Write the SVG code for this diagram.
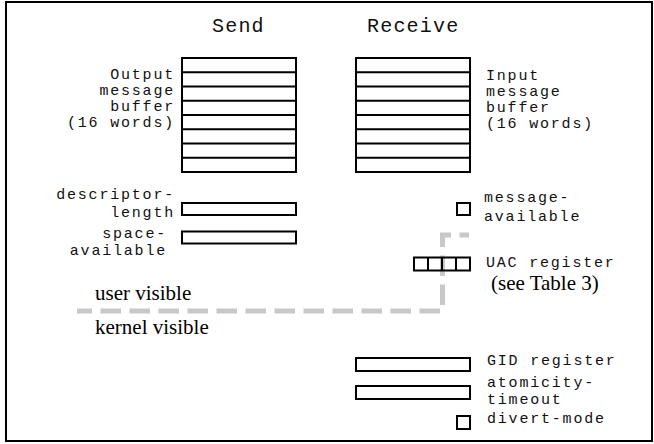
<svg xmlns="http://www.w3.org/2000/svg" width="654" height="444" viewBox="0 0 654 444">
<style>
.box{fill:none;stroke:#000;stroke-width:2}
.ln{stroke:#000;stroke-width:2}
.mono{font-family:"Liberation Mono","Courier New",monospace;font-size:15px;letter-spacing:1.8px;fill:#111}
.title{font-family:"Liberation Mono","Courier New",monospace;font-size:20px;letter-spacing:1.2px;fill:#111}
.serif{font-family:"Liberation Serif","Times New Roman",serif;font-size:21px;fill:#000}
.end{text-anchor:end}
.bound{fill:none;stroke:#c8c8c8;stroke-width:5;stroke-dasharray:20.5 8.5;stroke-dashoffset:5.5}
</style>
<rect x="6" y="2" width="646" height="439" fill="#fff" stroke="#000" stroke-width="2"/>
<g id="boundary">
<path class="bound" d="M77 311 H442.5 V235 H469"/>
<text class="serif" x="95" y="300">user visible</text>
<text class="serif" x="95" y="334">kernel visible</text>
</g>
<g id="send-title"><text class="title" x="212" y="32">Send</text></g>
<g id="receive-title"><text class="title" x="367" y="32">Receive</text></g>
<g id="output-buffer">
<rect class="box" x="182" y="58" width="114" height="114"/>
<path class="ln" d="M182 72.25H296M182 86.5H296M182 100.75H296M182 115H296M182 129.25H296M182 143.5H296M182 157.75H296"/>
<text class="mono end" x="175" y="79">Output</text>
<text class="mono end" x="175" y="95">message</text>
<text class="mono end" x="175" y="111">buffer</text>
<text class="mono end" x="175" y="127">(16 words)</text>
</g>
<g id="input-buffer">
<rect class="box" x="356" y="58" width="114" height="114"/>
<path class="ln" d="M356 72.25H470M356 86.5H470M356 100.75H470M356 115H470M356 129.25H470M356 143.5H470M356 157.75H470"/>
<text class="mono" x="486" y="80">Input</text>
<text class="mono" x="486" y="96">message</text>
<text class="mono" x="486" y="112">buffer</text>
<text class="mono" x="486" y="128">(16 words)</text>
</g>
<g id="descriptor-length">
<rect class="box" x="182" y="203" width="114" height="12"/>
<text class="mono end" x="175" y="199">descriptor-</text>
<text class="mono end" x="175" y="217">length</text>
</g>
<g id="space-available">
<rect class="box" x="182" y="231.5" width="114" height="12"/>
<text class="mono end" x="167" y="238">space-</text>
<text class="mono end" x="167" y="255">available</text>
</g>
<g id="message-available">
<rect class="box" x="457" y="203" width="13" height="12"/>
<text class="mono" x="484" y="202">message-</text>
<text class="mono" x="484" y="221">available</text>
</g>
<g id="uac-register">
<rect class="box" x="414" y="257.5" width="56" height="13"/>
<path class="ln" d="M428 257.5V270.5M442 257.5V270.5M456 257.5V270.5"/>
<text class="mono" x="486" y="267">UAC register</text>
<text class="serif" x="491" y="290">(see Table 3)</text>
</g>
<g id="gid-register">
<rect class="box" x="356" y="358" width="114" height="13"/>
<text class="mono" x="487" y="365">GID register</text>
</g>
<g id="atomicity-timeout">
<rect class="box" x="356" y="386" width="114" height="13"/>
<text class="mono" x="487" y="387">atomicity-</text>
<text class="mono" x="487" y="404">timeout</text>
</g>
<g id="divert-mode">
<rect class="box" x="457" y="416" width="13" height="13"/>
<text class="mono" x="487" y="423">divert-mode</text>
</g>
</svg>
